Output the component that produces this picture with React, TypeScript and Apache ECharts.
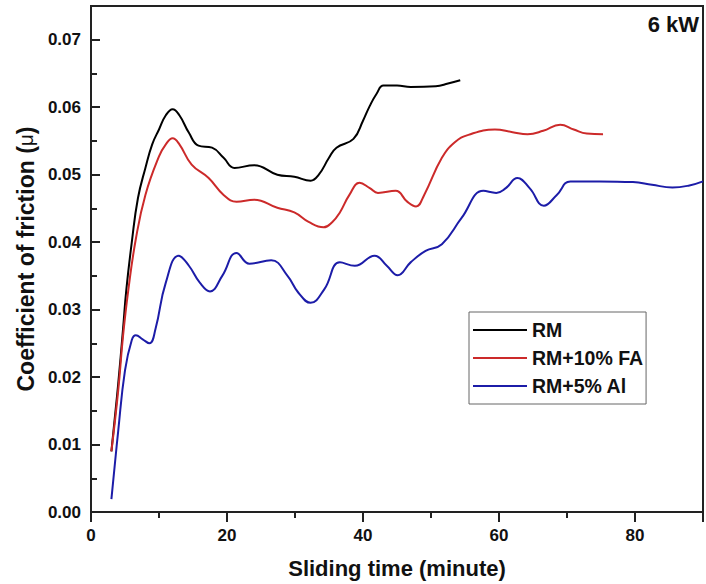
import React, { useEffect, useRef } from "react";
import * as echarts from "echarts";

const rmTime = [3, 4, 4.7, 5.2, 6.0, 6.9, 8.0, 9.0, 10.0, 11.0, 12.0, 13.0, 14.4, 15.8, 17.8, 19.5, 21.1, 24.0, 27.4, 29.9, 32.3, 33.5, 35.0, 36.1, 38.6, 40.0, 41.0, 42.0, 43.0, 45.0, 47.0, 50.7, 52.5, 54.3];
const rmCof = [0.009, 0.019, 0.027, 0.033, 0.040, 0.0465, 0.051, 0.0545, 0.0567, 0.0588, 0.0597, 0.0588, 0.0562, 0.0543, 0.054, 0.0525, 0.051, 0.0514, 0.050, 0.0497, 0.0491, 0.050, 0.0525, 0.054, 0.0553, 0.058, 0.0602, 0.062, 0.0632, 0.0632, 0.063, 0.0631, 0.0635, 0.064];

const faTime = [3, 4, 4.7, 5.5, 6.6, 8.0, 10.0, 11.0, 12.0, 13.0, 14.8, 17.3, 19.5, 21.4, 24.0, 27.4, 29.9, 32.0, 34.2, 35.5, 36.6, 38.0, 39.5, 41.0, 42.2, 44.8, 46.5, 47.8, 49.0, 51.6, 53.5, 55.5, 59.4, 62.0, 64.2, 66.5, 69.0, 71.0, 72.9, 75.3];
const faCof = [0.009, 0.018, 0.026, 0.033, 0.0405, 0.047, 0.0527, 0.0545, 0.0554, 0.0545, 0.0515, 0.0495, 0.047, 0.046, 0.0463, 0.0451, 0.0444, 0.043, 0.0422, 0.043, 0.0444, 0.047, 0.0488, 0.048, 0.0473, 0.0476, 0.046, 0.0453, 0.047, 0.0525, 0.0548, 0.0559, 0.0567, 0.0563, 0.056, 0.0565, 0.0574, 0.0567, 0.0561, 0.056];

const alTime = [3, 4, 5, 6, 6.6, 7.6, 8.6, 9.5, 11.0, 12.9, 14.4, 16.0, 17.5, 19.3, 21.4, 23.3, 26.5, 28.9, 30.5, 32.3, 34.3, 36.6, 38.8, 41.7, 43.5, 45.1, 47.0, 49.2, 51.6, 54.5, 57.7, 59.6, 61.0, 62.7, 64.5, 66.6, 68.5, 70.5, 74.8, 79.7, 82.5, 85.5, 88.0, 90.0];
const alCof = [0.0019, 0.012, 0.021, 0.0255, 0.0262, 0.0256, 0.025, 0.0272, 0.034, 0.038, 0.0365, 0.034, 0.0327, 0.035, 0.0384, 0.0368, 0.0373, 0.035, 0.0325, 0.031, 0.033, 0.037, 0.0365, 0.038, 0.0365, 0.0351, 0.037, 0.0387, 0.0397, 0.0436, 0.0476, 0.0473, 0.048, 0.0495, 0.048, 0.0454, 0.047, 0.049, 0.049, 0.0489, 0.0485, 0.0481, 0.0484, 0.049];

const seriesNames = ["RM", "RM+10% FA", "RM+5% Al"];
const seriesColors = ["#000000", "#cc2a2a", "#1c1ca8"];
const xTitle = "Sliding time (minute)";
const yTitle = "Coefficient of friction ({mu|\u03bc})";
const powerLabel = "6 kW";

const FONT = "'Liberation Sans', Arial, Helvetica, sans-serif";

const zip = (xs: number[], ys: number[]) => xs.map((x, i) => [x, ys[i]]);

export default function App() {
  const ref = useRef<HTMLDivElement>(null);
  useEffect(() => {
    if (!ref.current) return;
    const chart = echarts.init(ref.current, null, { renderer: "svg" });
    const datasets = [zip(rmTime, rmCof), zip(faTime, faCof), zip(alTime, alCof)];
    chart.setOption({
      animation: false,
      backgroundColor: "#ffffff",
      grid: {
        left: 91,
        top: 6,
        bottom: 70,
        right: -5,
        show: true,
        borderColor: "#222",
        borderWidth: 2,
        backgroundColor: "transparent",
      },
      legend: {
        orient: "vertical",
        left: 469,
        top: 312,
        data: seriesNames.map((n) => ({ name: n, icon: "rect" })),
        itemWidth: 54,
        itemHeight: 2,
        itemGap: 8,
        padding: [8, 3, 8, 4],
        borderColor: "#666",
        borderWidth: 1,
        backgroundColor: "#fff",
        textStyle: {
          fontFamily: FONT,
          fontWeight: "bold",
          fontSize: 19.5,
          lineHeight: 20,
          color: "#111",
        },
      },
      xAxis: {
        type: "value",
        min: 0,
        max: 90,
        interval: 20,
        name: xTitle,
        nameLocation: "middle",
        nameGap: 45,
        nameTextStyle: { fontFamily: FONT, fontWeight: "bold", fontSize: 22, color: "#111" },
        axisLine: { show: true, lineStyle: { color: "#222", width: 2 } },
        axisTick: { show: true, inside: false, length: 10, lineStyle: { color: "#222", width: 2 } },
        minorTick: { show: true, splitNumber: 2, length: 6, lineStyle: { color: "#222", width: 2 } },
        splitLine: { show: false },
        axisLabel: {
          margin: 15,
          fontFamily: FONT,
          fontWeight: "bold",
          fontSize: 17,
          color: "#111",
          formatter: (v: number) => (v > 80 ? "" : String(v)),
        },
      },
      yAxis: {
        type: "value",
        min: 0,
        max: 0.075,
        interval: 0.01,
        name: yTitle,
        nameLocation: "middle",
        nameGap: 54,
        nameTextStyle: {
          fontFamily: FONT,
          fontWeight: "bold",
          fontSize: 23,
          color: "#111",
          rich: {
            mu: { fontFamily: FONT, fontWeight: "normal", fontSize: 21, color: "#111" },
          },
        },
        axisLine: { show: true, lineStyle: { color: "#222", width: 2 } },
        axisTick: { show: true, inside: true, length: 9, lineStyle: { color: "#222", width: 2 } },
        minorTick: { show: true, splitNumber: 2, length: 6, lineStyle: { color: "#222", width: 2 } },
        splitLine: { show: false },
        axisLabel: {
          margin: 10,
          fontFamily: FONT,
          fontWeight: "bold",
          fontSize: 17,
          color: "#111",
          formatter: (v: number) => (v > 0.0701 ? "" : v.toFixed(2)),
        },
      },
      graphic: [
        {
          type: "text",
          right: 7,
          top: 13,
          style: {
            text: powerLabel,
            font: `bold 22px ${FONT}`,
            fill: "#111",
          },
        },
      ],
      series: seriesNames.map((n, i) => ({
        name: n,
        type: "line",
        data: datasets[i],
        smooth: 0.45,
        showSymbol: false,
        symbol: "none",
        clip: true,
        color: seriesColors[i],
        lineStyle: { color: seriesColors[i], width: 2 },
      })),
    });
    return () => chart.dispose();
  }, []);
  return (
    <div
      ref={ref}
      style={{ position: "fixed", left: 0, top: 0, width: 706, height: 584, background: "#fff" }}
    />
  );
}
